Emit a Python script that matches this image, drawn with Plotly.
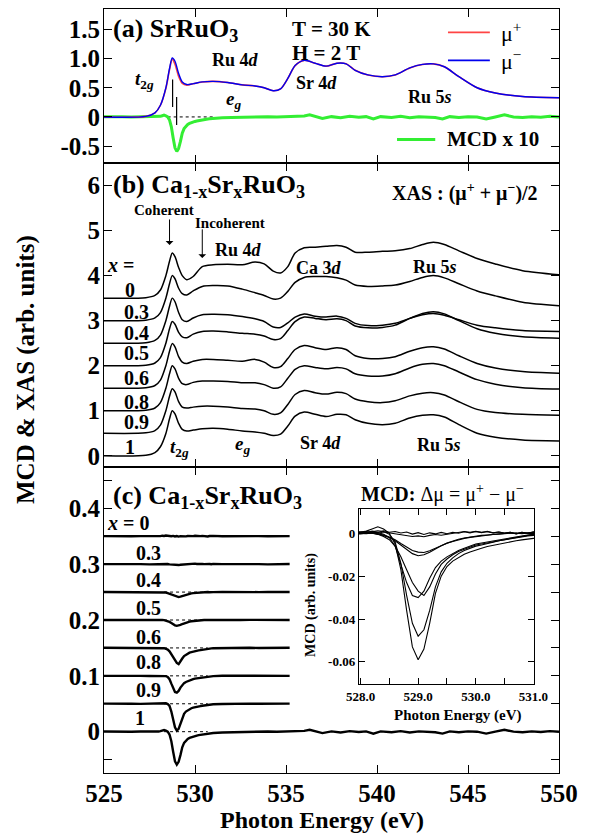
import plotly.graph_objects as go

FONT = "Liberation Serif"

# ---------------- XAS data (panel a, b) ----------------
E_xas = [525.0, 527.3, 527.8, 528.1, 528.4, 528.6, 528.75, 528.9, 529.1, 529.3,
         529.55, 529.9, 530.4, 531.0, 531.8, 532.6, 533.3, 533.8, 534.3, 534.7,
         535.1, 535.5, 536.0, 536.6, 537.2, 537.8, 538.3, 538.8, 539.5, 540.3,
         541.0, 541.8, 542.5, 543.1, 543.7, 544.5, 545.5, 546.5, 548.0, 550.0]

mu_plus = [0.0, 0.01, 0.07, 0.2, 0.49, 0.81, 0.99, 0.905, 0.695, 0.575,
           0.545, 0.57, 0.60, 0.61, 0.59, 0.55, 0.53, 0.50, 0.45, 0.48,
           0.66, 0.88, 0.97, 0.92, 0.87, 0.92, 0.91, 0.80, 0.72, 0.69,
           0.72, 0.84, 0.90, 0.91, 0.86, 0.69, 0.50, 0.41, 0.35, 0.33]
mu_minus = [0.0, 0.01, 0.07, 0.2, 0.50, 0.83, 1.01, 0.955, 0.745, 0.60,
            0.555, 0.57, 0.60, 0.61, 0.59, 0.55, 0.53, 0.50, 0.45, 0.48,
            0.66, 0.88, 0.97, 0.92, 0.87, 0.92, 0.91, 0.80, 0.72, 0.69,
            0.72, 0.84, 0.90, 0.91, 0.86, 0.69, 0.50, 0.41, 0.35, 0.33]

xas_x0 = [0, 0.01, 0.06, 0.18, 0.5, 0.82, 1.0, 0.92, 0.68, 0.50,
          0.41, 0.48, 0.70, 0.74, 0.75, 0.74, 0.80, 0.76, 0.60, 0.56,
          0.70, 1.0, 1.12, 1.13, 1.15, 1.17, 1.13, 1.02, 1.02, 1.04,
          1.05, 1.10, 1.19, 1.24, 1.19, 1.05, 0.88, 0.76, 0.61, 0.52]
xas_x03 = [0, 0.01, 0.06, 0.18, 0.5, 0.82, 1.0, 0.93, 0.72, 0.60,
           0.57, 0.66, 0.76, 0.78, 0.77, 0.70, 0.62, 0.56, 0.48, 0.50,
           0.65, 0.85, 0.96, 0.98, 0.98, 0.95, 0.90, 0.79, 0.76, 0.77,
           0.79, 0.87, 0.96, 1.0, 0.95, 0.82, 0.66, 0.55, 0.41, 0.33]
xas_x04 = [0, 0.01, 0.06, 0.18, 0.5, 0.82, 1.0, 0.92, 0.68, 0.52,
           0.48, 0.56, 0.63, 0.64, 0.63, 0.59, 0.54, 0.48, 0.36, 0.35,
           0.45, 0.58, 0.65, 0.60, 0.58, 0.60, 0.55, 0.44, 0.39, 0.40,
           0.44, 0.55, 0.63, 0.66, 0.62, 0.52, 0.40, 0.34, 0.28, 0.26]
xas_x05 = [0, 0.01, 0.06, 0.18, 0.5, 0.82, 0.98, 0.92, 0.74, 0.64,
           0.62, 0.70, 0.76, 0.77, 0.75, 0.72, 0.70, 0.66, 0.58, 0.60,
           0.78, 0.98, 1.08, 1.05, 1.02, 1.04, 1.0, 0.88, 0.84, 0.85,
           0.90, 1.05, 1.16, 1.20, 1.15, 1.0, 0.82, 0.72, 0.64, 0.61]
xas_x06 = [0, 0.01, 0.06, 0.18, 0.5, 0.82, 0.99, 0.92, 0.70, 0.58,
           0.55, 0.60, 0.64, 0.64, 0.62, 0.60, 0.64, 0.58, 0.46, 0.48,
           0.66, 0.86, 0.95, 0.90, 0.86, 0.90, 0.86, 0.72, 0.66, 0.66,
           0.70, 0.82, 0.90, 0.92, 0.87, 0.72, 0.55, 0.45, 0.37, 0.33]
xas_x08 = [0, 0.01, 0.06, 0.18, 0.5, 0.82, 1.0, 0.93, 0.72, 0.60,
           0.58, 0.63, 0.66, 0.66, 0.65, 0.62, 0.62, 0.58, 0.50, 0.53,
           0.72, 0.92, 1.0, 0.96, 0.93, 0.96, 0.93, 0.82, 0.77, 0.77,
           0.82, 0.95, 1.03, 1.05, 1.0, 0.86, 0.69, 0.59, 0.51, 0.48]
xas_x09 = [0, 0.01, 0.06, 0.18, 0.5, 0.82, 0.99, 0.92, 0.70, 0.58,
           0.56, 0.58, 0.60, 0.60, 0.58, 0.55, 0.54, 0.50, 0.42, 0.45,
           0.64, 0.86, 0.95, 0.90, 0.87, 0.91, 0.88, 0.76, 0.70, 0.68,
           0.72, 0.83, 0.89, 0.90, 0.85, 0.70, 0.53, 0.46, 0.42, 0.40]

compositions = ["0", "0.3", "0.4", "0.5", "0.6", "0.8", "0.9", "1"]

# ---------------- MCD data (panel a, c, inset) ----------------
E_mcd = [525.0, 525.5, 526.0, 526.5, 527.0, 527.5,
         528.0, 528.1, 528.2, 528.3, 528.4, 528.5, 528.6, 528.7, 528.8, 528.9,
         529.0, 529.1, 529.2, 529.3, 529.4, 529.5, 529.6, 529.7, 529.8, 529.9,
         530.0, 530.1, 530.2, 530.3, 530.4, 530.5, 530.6, 530.7, 530.8, 530.9,
         531.0, 531.5, 532.0, 532.5, 533.0, 533.5, 534.0, 534.5, 535.2]

mcd_x0 = [0.0002, -0.0002, 0.0003, 0.0, 0.0003, -0.0002,
          0.0006, 0.0002, 0.001, 0.0004, 0.0012, 0.0005, 0.0008, 0.0001, 0.0006, -0.0004,
          0.0003, -0.0006, 0.0002, -0.0003, 0.0004, -0.0002, 0.0005, 0.0, 0.0007, 0.0002,
          0.0008, 0.0003, 0.0009, 0.0002, 0.0006, 0.0, 0.0005, -0.0003, 0.0004, 0.0,
          0.0007, 0.0, 0.0003, 0.0, -0.0002, 0.0002, 0.0, -0.0002, 0.0003]
mcd_x03 = [0.0, 0.0003, -0.0002, 0.0002, 0.0, -0.0003,
           0.0004, 0.0008, 0.0005, 0.0, 0.0006, 0.0002, -0.0003, -0.0008, -0.0012, -0.0015,
           -0.0012, -0.0016, -0.001, -0.0006, -0.0009, -0.0004, 0.0, 0.0004, 0.0008, 0.0005,
           0.0009, 0.0004, 0.0007, 0.0002, 0.0006, 0.0001, 0.0005, -0.0002, 0.0004, 0.0,
           0.0006, 0.0, 0.0003, -0.0002, 0.0002, 0.0, -0.0003, 0.0002, 0.0003]
mcd_x04 = [0.0002, 0.0, -0.0002, 0.0002, 0.0, 0.0003,
           0.0, -0.0002, 0.0002, -0.0002, -0.0008, -0.0018, -0.003, -0.0048, -0.0066, -0.008,
           -0.0088, -0.009, -0.0082, -0.007, -0.0058, -0.0047, -0.0038, -0.003, -0.0024, -0.0019,
           -0.0015, -0.0012, -0.0009, -0.0006, -0.0004, -0.0002, 0.0, 0.0002, -0.0002, 0.0002,
           0.0, 0.0003, 0.0, -0.0002, 0.0002, 0.0, 0.0003, 0.0, 0.0002]
mcd_x05 = [0.0, 0.0002, 0.0, 0.0003, -0.0002, 0.0002,
           0.0, 0.0003, 0.0, -0.0003, -0.001, -0.002, -0.0035, -0.0055, -0.0078, -0.0095,
           -0.0105, -0.010, -0.0088, -0.0072, -0.0058, -0.0046, -0.0036, -0.0028, -0.0022, -0.0017,
           -0.0013, -0.001, -0.0008, -0.0005, -0.0003, 0.0, 0.0002, -0.0002, 0.0002, 0.0,
           0.0003, -0.0002, 0.0002, 0.0, 0.0003, 0.0, -0.0002, 0.0002, 0.0]
mcd_x06 = [0.0002, 0.0, 0.0003, -0.0002, 0.0002, 0.0,
           -0.0003, 0.0002, 0.0, -0.0005, -0.0015, -0.003, -0.006, -0.011, -0.017, -0.023,
           -0.027, -0.029, -0.025, -0.019, -0.0145, -0.012, -0.010, -0.0085, -0.0075, -0.0065,
           -0.0055, -0.005, -0.0045, -0.004, -0.0033, -0.0028, -0.0022, -0.0018, -0.0012, -0.0008,
           -0.0005, 0.0, 0.0003, 0.0, 0.0002, -0.0002, 0.0003, 0.0, 0.0002]
mcd_x08 = [0.0, 0.0003, -0.0002, 0.0002, 0.0, -0.0003,
           0.0002, 0.0, 0.0005, 0.0003, -0.0005, -0.002, -0.006, -0.014, -0.023, -0.029,
           -0.030, -0.027, -0.021, -0.016, -0.013, -0.011, -0.0095, -0.008, -0.007, -0.006,
           -0.005, -0.0045, -0.004, -0.0035, -0.003, -0.0025, -0.002, -0.0015, -0.001, -0.0008,
           -0.0005, 0.0002, 0.0, 0.0003, -0.0002, 0.0002, 0.0, 0.0003, 0.0]
mcd_x09 = [0.0002, -0.0003, 0.0003, 0.0, -0.0002, 0.0003,
           0.0, 0.0005, 0.001, 0.0012, 0.0008, -0.0005, -0.004, -0.014, -0.029, -0.042,
           -0.048, -0.045, -0.036, -0.025, -0.018, -0.014, -0.0115, -0.0095, -0.008, -0.007,
           -0.006, -0.0055, -0.005, -0.0042, -0.0035, -0.003, -0.0025, -0.002, -0.0018, -0.0012,
           -0.001, -0.0005, 0.0002, -0.0002, 0.0003, 0.0, 0.0002, -0.0002, 0.0002]

E_mcd_ext = [535.5, 536.0, 536.3, 536.6, 537.0, 537.5, 538.0, 538.5, 539.0, 539.4,
             539.8, 540.2, 540.8, 541.3, 541.8, 542.3, 542.8, 543.2, 543.6, 544.0,
             544.5, 545.0, 545.5, 546.0, 546.5, 547.0, 547.5, 548.0, 548.5, 549.0,
             549.5, 550.0]
E_mcd_sr = E_mcd + E_mcd_ext
mcd_x1 = [0.0003, -0.0003, 0.0002, -0.0002, 0.0003, 0.0,
          0.0004, 0.001, 0.002, 0.003, 0.002, 0.0, -0.005, -0.017, -0.036, -0.053,
          -0.059, -0.054, -0.042, -0.028, -0.020, -0.0155, -0.013, -0.0112, -0.0098, -0.0087,
          -0.0077, -0.007, -0.0062, -0.0056, -0.005, -0.0045, -0.004, -0.0035, -0.0031, -0.0027,
          -0.0024, -0.0014, -0.0008, -0.0003, 0.0002, -0.0002, 0.0003, -0.0002, 0.0002,
          0.0, 0.0015, 0.0035, 0.0005, -0.0025, 0.0005, -0.0015, 0.001, -0.0005, 0.0005,
          -0.0035, 0.0005, -0.001, 0.001, -0.0015, 0.0005, 0.0, -0.001, -0.0035, 0.0005,
          -0.001, 0.0005, 0.0, -0.0035, 0.0, 0.0035, 0.0, -0.001, 0.0005, -0.0005,
          0.001, 0.0]

mcd_sets = [(E_mcd, mcd_x0), (E_mcd, mcd_x03), (E_mcd, mcd_x04), (E_mcd, mcd_x05),
            (E_mcd, mcd_x06), (E_mcd, mcd_x08), (E_mcd, mcd_x09), (E_mcd_sr, mcd_x1)]

# markers / guide lines (data coordinates)
tick_marks_a = [([528.77, 528.77], [0.17, 0.64]), ([528.99, 528.99], [-0.14, 0.34])]
dot_span_a = [528.5, 531.0]
dot_span_c = [528.3, 530.7]

# ---------------- build figure ----------------
fig = go.Figure()
mean_xas = [(a + b) / 2 for a, b in zip(mu_plus, mu_minus)]
xas_sets = [xas_x0, xas_x03, xas_x04, xas_x05, xas_x06, xas_x08, xas_x09, mean_xas]
off_b = [3.5, 3.0, 2.5, 2.0, 1.5, 1.0, 0.5, 0.0]
off_c = [0.35, 0.30, 0.25, 0.20, 0.15, 0.10, 0.05, 0.0]

# panel (a)
fig.add_trace(go.Scatter(x=dot_span_a, y=[0, 0], mode="lines", xaxis="x", yaxis="y",
                         line=dict(color="black", width=1, dash="dot"), showlegend=False))
for xs, ys in tick_marks_a:
    fig.add_trace(go.Scatter(x=xs, y=ys, mode="lines", xaxis="x", yaxis="y",
                             line=dict(color="black", width=1.2), showlegend=False))
fig.add_trace(go.Scatter(x=E_mcd_sr, y=[10 * v for v in mcd_x1], mode="lines", xaxis="x", yaxis="y",
                         line=dict(color="#33ee33", width=3), showlegend=False))
fig.add_trace(go.Scatter(x=E_xas, y=mu_plus, mode="lines", xaxis="x", yaxis="y",
                         line=dict(color="#ff4444", width=1.6, shape="spline", smoothing=0.8), showlegend=False))
fig.add_trace(go.Scatter(x=E_xas, y=mu_minus, mode="lines", xaxis="x", yaxis="y",
                         line=dict(color="#0000ee", width=1.4, shape="spline", smoothing=0.8), showlegend=False))

# panel (b)
for o, ys in zip(off_b, xas_sets):
    fig.add_trace(go.Scatter(x=E_xas, y=[o + v for v in ys], mode="lines", xaxis="x2", yaxis="y2",
                             line=dict(color="black", width=1.5, shape="spline", smoothing=0.8),
                             showlegend=False))

# panel (c)
for i, (o, (xs, ys)) in enumerate(zip(off_c, mcd_sets)):
    if i >= 2:
        fig.add_trace(go.Scatter(x=dot_span_c, y=[o, o], mode="lines", xaxis="x3", yaxis="y3",
                                 line=dict(color="black", width=1, dash="dot"), showlegend=False))
    fig.add_trace(go.Scatter(x=xs, y=[o + v for v in ys], mode="lines", xaxis="x3", yaxis="y3",
                             line=dict(color="black", width=2.4), showlegend=False))

# inset
for xs, ys in mcd_sets:
    fig.add_trace(go.Scatter(x=xs, y=ys, mode="lines", xaxis="x4", yaxis="y4",
                             line=dict(color="black", width=1.1), showlegend=False))

ax = dict(showline=True, linecolor="black", linewidth=1, mirror="ticks", ticks="inside",
          ticklen=8, tickwidth=1, tickcolor="black", showgrid=False, zeroline=False,
          tickfont=dict(family=FONT, size=25, color="black", weight="bold"))

xr = [525, 550]
xt = dict(tickvals=[525, 530, 535, 540, 545, 550])
fig.update_layout(
    width=590, height=836, margin=dict(l=104, r=31, t=9, b=63),
    paper_bgcolor="white", plot_bgcolor="white", showlegend=False,
    xaxis=dict(ax, domain=[0, 1], anchor="y", range=xr, showticklabels=False, **xt),
    yaxis=dict(ax, domain=[0.7984, 1], anchor="x", range=[-0.79, 1.85], ticklabelstandoff=-2,
               tickvals=[-0.5, 0, 0.5, 1.0, 1.5], ticktext=["-0.5", "0", "0.5", "1.0", "1.5"]),
    xaxis2=dict(ax, domain=[0, 1], anchor="y2", range=xr, showticklabels=False, **xt),
    yaxis2=dict(ax, domain=[0.4005, 0.7984], anchor="x2", range=[-0.25, 6.5], ticklabelstandoff=-2,
                tickvals=[0, 1, 2, 3, 4, 5, 6]),
    xaxis3=dict(ax, domain=[0, 1], anchor="y3", range=xr, ticklabelstandoff=-2, **xt),
    yaxis3=dict(ax, domain=[0, 0.4005], anchor="x3", range=[-0.074, 0.474], ticklabelstandoff=-2,
                tickvals=[0, 0.1, 0.2, 0.3, 0.4], ticktext=["0", "0.1", "0.2", "0.3", "0.4"],
                minor=dict(dtick=0.05, ticks="inside", ticklen=8, tickcolor="black")),
    xaxis4=dict(ax, domain=[0.560, 0.945], anchor="y4", range=[527.97, 531.01],
                tickvals=[528, 529, 530, 531], ticktext=["528.0", "529.0", "530.0", "531.0"],
                ticklen=6, tickfont=dict(family=FONT, size=13, color="black", weight="bold"),
                minor=dict(dtick=0.5, ticks="inside", ticklen=6, tickcolor="black")),
    yaxis4=dict(ax, domain=[0.1165, 0.3455], anchor="x4", range=[-0.0703, 0.0113],
                tickvals=[0, -0.02, -0.04, -0.06], ticktext=["0", "-0.02", "-0.04", "-0.06"],
                ticklen=6, tickfont=dict(family=FONT, size=13, color="black", weight="bold")),
)

anns = []
def T(text, x, y, xr_, yr_, size=18, xanchor="center", bold=True, yanchor="middle", **kw):
    anns.append(dict(text=("<b>%s</b>" % text) if bold else text, x=x, y=y, xref=xr_, yref=yr_,
                     showarrow=False, xanchor=xanchor, yanchor=yanchor,
                     font=dict(family=FONT, size=size, color="black"), **kw))

# panel (a) texts
T("(a) SrRuO<sub>3</sub>", 525.4, 1.49, "x", "y", 26, "left")
T("T = 30 K", 535.2, 1.50, "x", "y", 21, "left")
T("H = 2 T", 535.2, 1.10, "x", "y", 21, "left")
T("Ru 4<i>d</i>", 532.25, 0.97, "x", "y", 18)
T("<i>t</i><sub>2<i>g</i></sub>", 527.25, 0.63, "x", "y", 19)
T("<i>e</i><sub><i>g</i></sub>", 532.14, 0.29, "x", "y", 19)
T("Sr 4<i>d</i>", 536.65, 0.58, "x", "y", 18)
T("Ru 5<i>s</i>", 542.9, 0.34, "x", "y", 18)
T("μ<sup>+</sup>", 546.7, 1.45, "x", "y", 22, "left", bold=False)
T("μ<sup>−</sup>", 546.7, 0.97, "x", "y", 22, "left", bold=False)
T("MCD x 10", 543.74, -0.385, "x", "y", 21, "left")

# panel (b) texts
T("(b) Ca<sub>1-x</sub>Sr<sub>x</sub>RuO<sub>3</sub>", 525.4, 5.99, "x2", "y2", 26, "left")
T("XAS : (μ<sup>+</sup> + μ<sup>−</sup>)/2", 548.96, 5.84, "x2", "y2", 20, "right")
T("Coherent", 528.27, 5.46, "x2", "y2", 15)
T("Incoherent", 531.9, 5.17, "x2", "y2", 15)
T("Ru 4<i>d</i>", 532.39, 4.57, "x2", "y2", 18)
T("Ca 3<i>d</i>", 536.84, 4.17, "x2", "y2", 18)
T("Ru 5<i>s</i>", 543.19, 4.19, "x2", "y2", 18)
T("<i>t</i><sub>2<i>g</i></sub>", 529.15, 0.17, "x2", "y2", 19)
T("<i>e</i><sub><i>g</i></sub>", 532.6, 0.24, "x2", "y2", 19)
T("Sr 4<i>d</i>", 536.9, 0.28, "x2", "y2", 18)
T("Ru 5<i>s</i>", 543.38, 0.24, "x2", "y2", 18)
T("<i>x</i> =", 525.05, 4.24, "x2", "y2", 20, "left")
lab_b_y = [3.68, 3.19, 2.73, 2.28, 1.73, 1.19, 0.75, 0.19]
for c, yy in zip(compositions, lab_b_y):
    T(c, 526.81 if len(c) > 1 else 526.43, yy, "x2", "y2", 20)
for xx, y0, y1 in [(528.6, 5.28, 4.68), (530.4, 5.06, 4.39)]:
    anns.append(dict(x=xx, y=y1, ax=xx, ay=y0, xref="x2", yref="y2", axref="x2", ayref="y2",
                     showarrow=True, arrowhead=1, arrowsize=1.3, arrowwidth=1, arrowcolor="black", text=""))

# panel (c) texts
T("(c) Ca<sub>1-x</sub>Sr<sub>x</sub>RuO<sub>3</sub>", 525.4, 0.42, "x3", "y3", 26, "left")
T("MCD:</b> Δμ = μ<sup>+</sup> − μ<sup>−</sup><b>", 543.6, 0.427, "x3", "y3", 20)
T("<i>x</i> = 0", 525.05, 0.374, "x3", "y3", 20, "left")
lab_c_y = [0.32, 0.272, 0.221, 0.170, 0.125, 0.075, 0.0245]
for c, yy in zip(compositions[1:], lab_c_y):
    T(c, 527.45 if len(c) > 1 else 526.98, yy, "x3", "y3", 20)

# axis titles
T("MCD &amp; XAS (arb. units)", -0.1714, 0.5275, "paper", "paper", 25, textangle=-90)
T("Photon Energy (eV)", 0.4791, -0.0815, "paper", "paper", 24, yanchor="bottom")
T("Photon Energy (eV)", 0.778, 0.0759, "paper", "paper", 15)
T("MCD (arb. units)", 0.455, 0.22, "paper", "paper", 14, textangle=-90)

fig.update_layout(annotations=anns)

# legend samples
shapes = []
for yv, col in [(1.45, "#ff4444"), (0.97, "#0000ee")]:
    shapes.append(dict(type="line", xref="x", yref="y", x0=543.9, x1=546.2, y0=yv, y1=yv,
                       line=dict(color=col, width=1.6)))
shapes.append(dict(type="line", xref="x", yref="y", x0=541.1, x1=543.2, y0=-0.385, y1=-0.385,
                   line=dict(color="#33ee33", width=3)))
fig.update_layout(shapes=shapes)

fig.write_html("out.html", config={"displayModeBar": False},
               post_script="document.body.style.margin='0px';document.body.style.overflow='hidden';")
